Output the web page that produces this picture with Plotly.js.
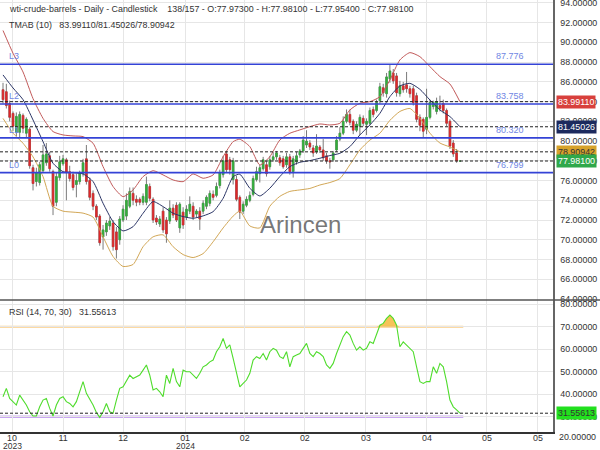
<!DOCTYPE html>
<html><head><meta charset="utf-8">
<script src="https://cdn.plot.ly/plotly-3.0.1.min.js"></script>
<style>html,body{margin:0;padding:0;background:#fff}#chart{width:600px;height:450px}</style>
</head><body><div id="chart"></div>
<script>
// ---- data ----
const opens = [85.2,85.0,83.8,82.8,80.9,80.9,82.6,80.8,81.2,77.3,
75.9,75.8,77.0,77.8,78.5,76.9,73.8,76.3,77.7,78.1,
76.9,76.6,75.6,75.9,76.7,78.2,76.0,74.7,73.4,72.4,
70.3,70.8,71.4,71.7,70.8,70.0,72.0,72.4,73.4,74.7,
74.1,74.1,73.8,73.8,75.4,74.1,72.2,71.6,72.9,72.0,
71.9,73.2,73.5,71.2,72.8,72.3,72.9,73.4,72.6,72.9,
72.9,73.4,73.7,74.6,74.5,75.5,76.6,78.7,78.1,76.1,
76.1,74.3,72.9,73.5,74.0,74.6,76.1,76.7,77.2,77.6,
77.4,78.1,78.4,78.3,78.2,77.6,78.4,76.9,77.9,78.6,
79.0,79.6,79.8,79.3,78.9,79.4,79.1,78.5,78.0,78.1,
79.1,80.2,80.8,82.0,82.7,82.0,81.1,81.5,82.3,81.7,
81.8,83.2,83.1,84.1,85.4,84.8,86.3,86.9,86.6,84.8,
85.6,85.7,85.3,85.3,84.6,82.4,82.2,81.2,82.4,83.5,
83.0,83.6,83.8,83.1,82.0,79.8,78.8,77.973];
const highs = [85.9,85.8,84.1,83.0,82.9,83.0,82.8,82.4,81.4,77.6,
77.3,77.9,79.6,79.8,78.9,77.1,76.8,78.5,78.6,78.3,
77.5,76.9,76.7,77.0,78.2,79.6,76.3,75.0,73.6,72.6,
71.5,72.0,72.3,72.0,71.3,72.4,73.5,74.7,75.3,75.3,
74.5,74.3,74.7,76.4,75.7,74.3,72.5,72.4,73.3,72.3,
74.0,73.6,73.8,73.8,73.3,73.5,74.4,73.8,73.1,73.3,
74.0,74.5,75.0,75.0,75.8,77.1,78.5,79.0,78.4,78.3,
76.5,74.5,73.9,74.4,74.9,76.5,77.4,77.6,78.4,78.0,
78.5,78.9,79.0,78.6,78.5,78.8,78.7,78.5,78.9,79.2,
80.5,81.1,80.1,79.6,80.7,79.6,80.2,78.8,78.3,79.0,
80.5,81.4,82.5,83.2,83.2,82.2,82.0,82.7,82.6,82.3,
83.4,83.5,84.2,85.9,85.8,86.9,87.7,87.3,86.9,86.1,
86.0,87.0,85.6,85.6,84.9,82.7,82.4,85.3,84.2,84.1,
84.4,84.6,84.2,83.3,82.2,80.1,79.2,77.981];
const lows = [83.8,83.3,82.0,81.0,80.5,80.3,80.8,80.4,77.2,75.0,
75.4,75.5,76.8,77.5,76.9,72.5,73.4,76.0,77.5,74.0,
75.9,75.0,74.3,75.6,76.4,75.6,74.0,73.0,72.0,69.4,
69.0,70.4,71.0,68.9,68.1,69.5,71.8,72.0,73.2,73.5,
73.4,73.5,73.5,73.5,73.9,71.7,71.5,71.3,70.7,69.7,
71.6,72.2,71.8,70.7,71.1,72.0,72.6,72.0,72.3,71.0,
72.6,73.1,73.4,74.0,74.3,75.2,76.3,76.8,76.6,75.6,
73.9,72.1,72.6,73.3,73.8,74.4,75.9,75.8,77.0,76.4,
77.1,77.9,78.1,77.5,77.2,77.3,76.6,76.3,77.6,78.3,
78.8,79.3,79.1,78.4,78.7,78.8,78.0,77.7,77.2,77.9,
78.9,80.0,80.6,81.8,81.6,80.7,80.9,80.6,81.5,80.6,
81.6,82.4,82.9,83.8,84.5,84.4,85.9,85.8,84.5,84.5,
84.9,84.9,84.4,83.6,81.9,81.0,80.4,80.7,82.2,83.2,
82.7,83.0,82.8,81.5,79.2,78.4,77.8,77.954];
const closes = [84.2,83.6,82.4,81.5,82.5,82.7,81.3,82.2,77.5,75.7,
76.8,77.6,78.6,78.7,77.2,73.4,76.4,77.9,78.2,76.8,
76.2,75.3,76.0,76.8,77.8,75.9,74.3,73.4,72.3,69.7,
71.0,71.7,71.9,69.3,69.0,72.1,73.1,74.0,74.9,74.0,
73.8,73.8,74.4,75.6,74.2,72.0,71.8,72.1,71.0,70.6,
73.2,72.5,72.0,73.6,71.5,73.1,73.6,72.3,72.9,72.1,
73.7,74.3,74.7,74.3,75.4,76.8,78.0,77.1,77.1,78.0,
74.1,72.8,73.6,74.1,74.5,76.2,76.9,77.3,78.1,76.7,
78.1,78.4,78.8,77.8,77.4,78.4,76.9,78.2,78.5,79.0,
80.1,80.0,79.4,78.8,79.5,79.1,78.3,78.0,77.9,78.8,
80.1,80.8,82.0,82.7,81.9,81.1,81.7,82.4,81.8,82.0,
83.1,82.7,83.9,85.5,84.9,86.5,87.1,86.1,84.9,85.6,
85.2,85.3,84.8,83.9,82.2,81.6,81.0,82.4,83.9,83.9,
84.0,83.3,83.1,81.8,79.5,78.7,78.0,77.981];

// TMAB(10) bands, read every 3 bars
const bandIdx = [0,3,6,9,12,15,18,21,24,27,30,33,36,39,42,45,48,51,54,57,60,63,66,69,71,74,77,80,83,86,89,92,95,98,101,104,107,110,113,116,119,122,125,128,131,134,137];
const upperBand = [91.2,88.9,87.0,84.3,82.3,80.96,80.62,80.52,80.45,79.78,77.41,75.39,74.37,75.05,76.40,77.0,76.57,76.06,75.89,76.67,76.23,76.57,78.42,79.94,80.18,79.44,77.58,78.42,80.11,80.79,81.13,81.46,81.73,81.63,81.80,83.15,83.83,83.99,84.50,86.19,88.22,88.96,88.55,87.54,86.53,85.78,83.9911];
const midBand = [86.7,85.38,84.2,82.14,79.94,77.75,76.90,76.8,76.67,75.9,73.70,71.84,70.9,71.33,72.69,73.87,73.36,72.69,72.35,72.18,72.42,72.85,74.2,76.4,76.64,75.22,74.44,75.22,76.40,77.41,77.85,78.02,78.26,78.53,78.76,79.44,80.62,81.63,82.81,84.50,85.58,85.85,85.24,84.16,83.15,82.48,81.45026];
const lowerBand = [82.3,80.8,79.78,78.4,76.4,73.4,72.9,72.8,72.7,72.3,70.3,68.3,67.3,67.5,69.3,70.3,70.5,69.3,68.5,68.2,68.6,69.8,71.2,72.4,72.9,71.4,71.2,73.4,74.4,74.9,75.05,75.2,75.55,75.8,76.2,77.6,79.1,80.1,80.8,82.1,83.0,83.3,82.3,80.8,79.8,79.4,78.90942];

const rsi = [38.9,42.6,38.1,36.7,35.2,39.6,37.4,35.2,32.2,30.3,
30.3,34.4,37.4,38.1,33.7,30.3,35.2,38.1,38.9,36.7,
35.9,34.4,36.7,41.1,45.6,40.4,38.1,35.2,31.9,29.7,
32.2,35.9,32.2,31.5,37.4,42.6,43.3,45.6,48.5,47.0,
47.8,48.5,50.7,53.0,48.5,41.9,42.6,41.1,38.9,48.5,
44.8,51.5,45.6,43.3,50.7,50.0,50.0,48.5,47.0,49.3,
52.2,53.0,54.4,55.2,58.9,61.1,64.8,60.4,61.9,55.9,
49.3,43.3,44.8,46.3,49.3,55.2,56.7,55.9,58.1,55.2,
58.9,60.4,59.6,56.7,55.9,58.9,52.2,56.7,57.4,58.1,
60.4,62.6,58.1,56.7,58.9,58.1,56.7,53.0,51.5,53.7,
58.1,61.9,65.6,67.8,66.3,62.6,59.6,61.1,59.6,60.4,
63.3,62.6,66.3,70.7,71.5,73.7,75.2,73.7,70.7,61.1,
63.3,61.9,60.4,58.9,52.2,45.6,44.8,45.6,45.6,52.2,
49.3,53.7,52.2,45.6,37.4,34.4,33.0,31.55613];

const levelNames = ['L3','L2','L1','L0'];
const levelValues = [87.776, 83.758, 80.320, 76.799];
const tmabNow = [83.99110, 81.45026, 78.90942];
const lastClose = 77.98100;
const rsiNow = 31.55613;
const rsiUpper = 70, rsiLower = 30;
const rsiTicks = [20,30,40,50,60,70,80];
const monthLabels = ['10','11','12','01','02','02','03','04','05','05'];
const yearLabels = ['2023','','','2024','','','','','',''];
const monthTickPos = [2.7,18.0,36.0,54.6,72.5,90.5,108.8,127.1,145.1,160.4];
const titleText = 'wti-crude-barrels - Daily - Candlestick\u00a0\u00a0\u00a0\u00a0138/157 - O:77.97300 - H:77.98100 - L:77.95400 - C:77.98100';

// ---- build ----
const idx = closes.map((_, i) => i);
const bodyHigh = opens.map((o, i) => Math.max(o, closes[i]));
const bodyLow = opens.map((o, i) => Math.min(o, closes[i]));
const fmt5 = v => v.toFixed(5);
const FONT = 'Arial, "Liberation Sans", sans-serif';
const FS = 8.9;
const GREEN = '#33b03b', RED = '#e0282a';

const traces = [
  {type:'candlestick', x:idx, open:opens, high:highs, low:lows, close:closes,
   xaxis:'x2', yaxis:'y2', hoverinfo:'skip', showlegend:false, whiskerwidth:0,
   increasing:{line:{color:'#7a7a7a', width:1}, fillcolor:'#7a7a7a'},
   decreasing:{line:{color:'#7a7a7a', width:1}, fillcolor:'#7a7a7a'}},
  {type:'candlestick', x:idx, open:opens, high:bodyHigh, low:bodyLow, close:closes,
   xaxis:'x2', yaxis:'y2', hoverinfo:'skip', showlegend:false, whiskerwidth:0,
   increasing:{line:{color:GREEN, width:0.5}, fillcolor:GREEN},
   decreasing:{line:{color:RED, width:0.5}, fillcolor:RED}},
  {type:'scatter', mode:'lines', x:bandIdx, y:upperBand, xaxis:'x2', yaxis:'y2',
   line:{color:'#c25a5a', width:1, shape:'spline', smoothing:0.6}, hoverinfo:'skip', showlegend:false},
  {type:'scatter', mode:'lines', x:bandIdx, y:midBand, xaxis:'x2', yaxis:'y2',
   line:{color:'#2b3566', width:1, shape:'spline', smoothing:0.6}, hoverinfo:'skip', showlegend:false},
  {type:'scatter', mode:'lines', x:bandIdx, y:lowerBand, xaxis:'x2', yaxis:'y2',
   line:{color:'#d2a756', width:1, shape:'spline', smoothing:0.6}, hoverinfo:'skip', showlegend:false},
  // RSI overbought fill
  {type:'scatter', mode:'lines', x:idx, y:idx.map(() => rsiUpper), xaxis:'x', yaxis:'y',
   line:{width:0, color:'rgba(0,0,0,0)'}, hoverinfo:'skip', showlegend:false},
  {type:'scatter', mode:'lines', x:idx, y:rsi.map(v => Math.max(v, rsiUpper)), xaxis:'x', yaxis:'y',
   fill:'tonexty', fillcolor:'rgba(245,185,60,0.85)', line:{width:0, color:'rgba(0,0,0,0)'}, hoverinfo:'skip', showlegend:false},
  {type:'scatter', mode:'lines', x:idx, y:rsi, xaxis:'x', yaxis:'y',
   line:{color:'#4fdc2c', width:1.1}, hoverinfo:'skip', showlegend:false}
];

const mainBottom = 1 - 300/432;
const shapes = [];
levelValues.forEach(v => shapes.push({type:'line', xref:'paper', x0:0, x1:1, yref:'y2', y0:v, y1:v,
  line:{color:'#3443d6', width:1.6}}));
tmabNow.concat([lastClose]).forEach(v => shapes.push({type:'line', xref:'paper', x0:0, x1:1, yref:'y2', y0:v, y1:v,
  line:{color:'#222', width:1, dash:'3px,2px'}}));
shapes.push({type:'line', xref:'x', x0:-1, x1:closes.length, yref:'y', y0:rsiUpper, y1:rsiUpper,
  line:{color:'#fbcd85', width:2}, layer:'below'});
shapes.push({type:'line', xref:'x', x0:-1, x1:closes.length, yref:'y', y0:rsiLower, y1:rsiLower,
  line:{color:'#c9a6f2', width:2.5}, layer:'below'});
shapes.push({type:'line', xref:'paper', x0:0, x1:1, yref:'y', y0:rsiNow, y1:rsiNow,
  line:{color:'#222', width:1, dash:'3px,2px'}});
shapes.push({type:'line', xref:'paper', x0:0, x1:600/553, yref:'paper', y0:mainBottom, y1:mainBottom,
  line:{color:'#555', width:1.5}});

const annotations = [];
const txt = (text, x, y, opts) => Object.assign({text, x, y, xref:'paper', yref:'paper', showarrow:false,
  xanchor:'left', yanchor:'middle', font:{family:FONT, size:FS, color:'#333'}}, opts || {});
annotations.push(txt(titleText, 0.012, 1 - 9/432));
annotations.push(txt('TMAB (10)\u00a0\u00a0\u00a0' + tmabNow.map(fmt5).join('/'), 0.012, 1 - 25/432));
annotations.push(txt('RSI (14, 70, 30)\u00a0\u00a0\u00a0' + fmt5(rsiNow), 0.012, 1 - 312/432));
annotations.push(txt('Arincen', 300/553, 1 - 224/432, {xanchor:'center',
  font:{family:FONT, size:24, color:'rgba(95,95,95,0.85)'}}));
levelNames.forEach((n, k) => {
  annotations.push({text:n, xref:'paper', x:0.012, yref:'y2', y:levelValues[k], yanchor:'bottom', xanchor:'left',
    yshift:1, showarrow:false, font:{family:FONT, size:9, color:'#6f86e3'}});
  annotations.push({text:levelValues[k].toFixed(3), xref:'paper', x:510/553, yref:'y2', y:levelValues[k], yanchor:'bottom',
    xanchor:'center', yshift:1, showarrow:false, font:{family:FONT, size:9, color:'#6f86e3'}});
});
yearLabels.forEach((yl, k) => {
  if (yl) annotations.push({text:yl, xref:'x', x:monthTickPos[k], yref:'paper', y:-(446-432)/432,
    xanchor:'center', yanchor:'middle', showarrow:false, borderpad:0, font:{family:FONT, size:8.5, color:'#333'}});
});
// lowest RSI tick label, sitting just under the panel edge as in the reference
annotations.push({text:fmt5(rsiTicks[0]), xref:'paper', x:1, xshift:4, yref:'paper', y:-(437-432)/432,
  xanchor:'left', yanchor:'middle', showarrow:false, font:{family:FONT, size:FS, color:'#333'}});
const tag = (v, yref, bg, fg) => ({text:fmt5(v), xref:'paper', x:1.006, yref, y:v, xanchor:'left', yanchor:'middle',
  showarrow:false, bgcolor:bg, borderpad:1, font:{family:FONT, size:FS, color:fg}});
annotations.push(tag(tmabNow[0], 'y2', '#d8403c', '#fff'));
annotations.push(tag(tmabNow[1], 'y2', '#1c2a5e', '#fff'));
annotations.push(tag(tmabNow[2], 'y2', '#d6a22a', '#333'));
annotations.push(tag(lastClose, 'y2', '#2fa84a', '#fff'));
annotations.push(tag(rsiNow, 'y', '#22e01e', '#333'));

const xCommon = {type:'linear', range:[-0.9, 164.9], domain:[0,1], tickmode:'array', tickvals:monthTickPos,
  ticktext:monthLabels, showgrid:true, gridcolor:'#e6e6e6', gridwidth:1, zeroline:false, ticks:'',
  tickfont:{family:FONT, size:FS, color:'#333'}, fixedrange:true};
const yCommon = {side:'right', showgrid:true, gridcolor:'#e6e6e6', zeroline:false, tickformat:'.5f',
  showline:true, linecolor:'#666', linewidth:1.5, ticks:'', ticklabeloverflow:'allow', ticklabelstandoff:4,
  tickfont:{family:FONT, size:FS, color:'#333'}};
const layout = {
  width:600, height:450, margin:{l:0, r:47, t:0, b:18, pad:0},
  paper_bgcolor:'#fff', plot_bgcolor:'#fff', showlegend:false, hovermode:false, boxmode:'overlay',
  xaxis: Object.assign({}, xCommon, {anchor:'y', showline:true, linecolor:'#333', linewidth:1.5, ticklabelstandoff:-3}),
  xaxis2: Object.assign({}, xCommon, {anchor:'y2', matches:'x', showticklabels:false, rangeslider:{visible:false}}),
  yaxis: Object.assign({}, yCommon, {domain:[0, mainBottom], anchor:'x', range:[23.2, 81.9],
    tickmode:'array', tickvals:rsiTicks}),
  yaxis2: Object.assign({}, yCommon, {domain:[mainBottom, 1], anchor:'x2', range:[63.9, 94.29], dtick:2, tick0:0}),
  shapes, annotations
};
Plotly.newPlot('chart', traces, layout, {displayModeBar:false, staticPlot:true});
</script>
</body></html>
